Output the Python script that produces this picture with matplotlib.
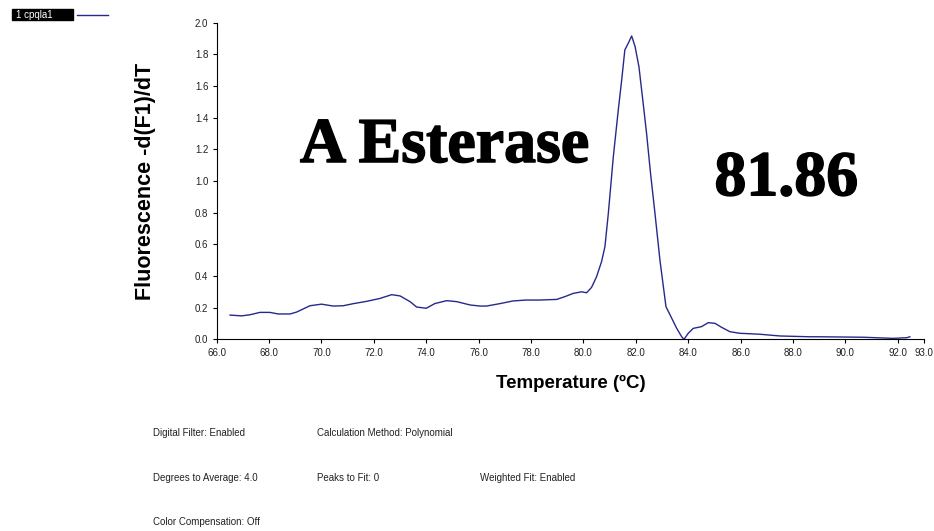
import matplotlib
matplotlib.use('Agg')
import matplotlib.pyplot as plt
import matplotlib.patheffects as pe
from matplotlib.patches import Rectangle
from matplotlib.lines import Line2D

# melt curve
temp = [66.51, 66.95, 67.27, 67.65, 68.03, 68.35, 68.80, 69.05, 69.56, 70.00,
        70.45, 70.83, 71.21, 71.73, 72.23, 72.68, 73.00, 73.38, 73.63, 74.00,
        74.33, 74.78, 75.16, 75.67, 76.05, 76.30, 76.80, 77.30, 77.80, 78.34,
        78.98, 79.30, 79.61, 79.93, 80.12, 80.31, 80.50, 80.69, 80.82, 80.95,
        81.14, 81.33, 81.46, 81.58, 81.71, 81.84, 81.97, 82.12, 82.28, 82.41,
        82.56, 82.73, 82.92, 83.15, 83.37, 83.56, 83.75, 83.84, 84.00, 84.19,
        84.51, 84.76, 85.02, 85.27, 85.59, 85.97, 86.73, 87.50, 88.64, 89.00,
        90.68, 91.82, 92.34, 92.46]
dfdt = [0.153, 0.148, 0.155, 0.170, 0.170, 0.160, 0.160, 0.172, 0.212, 0.222,
        0.210, 0.212, 0.225, 0.240, 0.258, 0.282, 0.274, 0.238, 0.204, 0.196,
        0.226, 0.244, 0.238, 0.217, 0.210, 0.210, 0.225, 0.242, 0.248, 0.248,
        0.252, 0.270, 0.290, 0.300, 0.294, 0.328, 0.395, 0.490, 0.585, 0.796,
        1.153, 1.449, 1.638, 1.828, 1.870, 1.916, 1.850, 1.720, 1.490, 1.300,
        1.050, 0.796, 0.500, 0.206, 0.133, 0.069, 0.016, 0.000, 0.038, 0.069,
        0.080, 0.105, 0.101, 0.076, 0.048, 0.038, 0.032, 0.021, 0.016, 0.016,
        0.013, 0.006, 0.010, 0.016]

xticks = [66, 68, 70, 72, 74, 76, 78, 80, 82, 84, 86, 88, 90, 92, 93]
yticks = [0.0, 0.2, 0.4, 0.6, 0.8, 1.0, 1.2, 1.4, 1.6, 1.8, 2.0]
sample_name = '1 cpqla1'
settings = [('Digital Filter: Enabled', 153, 433), ('Calculation Method: Polynomial', 317, 433),
            ('Degrees to Average: 4.0', 153, 478), ('Peaks to Fit: 0', 317, 478),
            ('Weighted Fit: Enabled', 480, 478), ('Color Compensation: Off', 153, 522)]

LINE = '#28288c'
W, H = 934, 531
plt.rcParams['font.family'] = ['Liberation Sans', 'DejaVu Sans']

fig = plt.figure(figsize=(W / 100, H / 100), dpi=100)
ax = fig.add_axes([216.7 / W, 1 - 339.3 / H, (924 - 216.7) / W, (339.3 - 22.7) / H])
ax.plot(temp, dfdt, color=LINE, lw=1.0)
ax.set_xlim(66, 93); ax.set_ylim(0, 2.0)
ax.set_xticks(xticks); ax.set_xticklabels([f'{t:.1f}' for t in xticks])
ax.set_yticks(yticks); ax.set_yticklabels([f'{t:.1f}' for t in yticks])
ax.tick_params(labelsize=7, labelcolor='#222222', length=3, width=0.8, pad=3)
for s in ['top', 'right']:
    ax.spines[s].set_visible(False)

ax.set_xlabel('Temperature (\u00baC)', fontsize=13.5, fontweight='bold')
ax.xaxis.set_label_coords(0.5, -(375 - 339.3) / 316.7)
ax.set_ylabel('Fluorescence -d(F1)/dT', fontsize=15.5, fontweight='bold')
ax.yaxis.set_label_coords((156 - 216.7) / 707.3, 0.5)

# big annotations: the serif face here has no bold, so thicken it with a thin stroke
thick = [pe.withStroke(linewidth=1.1, foreground='black')]
ax.text(69.18, 1.12, 'A Esterase', family=['Liberation Serif', 'DejaVu Serif'], fontsize=46,
        fontweight='bold', va='baseline', path_effects=thick)
ax.text(85.0, 0.91, '81.86', family=['Liberation Serif', 'DejaVu Serif'], fontsize=46,
        fontweight='bold', va='baseline', path_effects=thick)

# sample legend in the corner
fig.patches.append(Rectangle((11.7 / W, 1 - 19.5 / H), 61 / W, 11 / H, color='black',
                             transform=fig.transFigure))
fig.text(16 / W, 1 - 14.5 / H, sample_name, color='white', fontsize=7, va='center')
fig.lines.append(Line2D([76.7 / W, 108.3 / W], [1 - 15 / H, 1 - 15 / H], color=LINE, lw=1.0,
                        transform=fig.transFigure))

for txt, x, y in settings:
    fig.text(x / W, 1 - y / H, txt, fontsize=7, color='#222222', va='center')

fig.savefig('out.png', dpi=100)
